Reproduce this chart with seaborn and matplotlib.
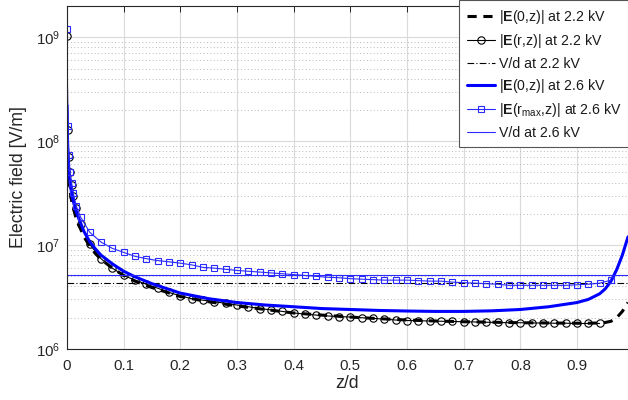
import matplotlib
matplotlib.use("Agg")
import matplotlib.pyplot as plt
import seaborn as sns
import pandas as pd
from matplotlib.ticker import LogLocator, NullFormatter, FixedLocator

# ---------------- data ----------------
z_E0 = [0, 0.001, 0.002, 0.004, 0.006, 0.008, 0.01, 0.015, 0.02, 0.03, 0.04, 0.05,
        0.06, 0.08, 0.10, 0.12, 0.15, 0.20, 0.25, 0.30, 0.35, 0.40, 0.45, 0.50,
        0.55, 0.60, 0.65, 0.70, 0.75, 0.80, 0.85, 0.90, 0.92, 0.94, 0.95, 0.96,
        0.97, 0.98, 0.99]
E0_22 = [1.3e8, 8.0e7, 6.0e7, 4.0e7, 3.2e7, 2.7e7, 2.4e7, 1.9e7, 1.6e7, 1.2e7, 9.8e6, 8.3e6,
         7.3e6, 6.0e6, 5.1e6, 4.5e6, 3.9e6, 3.2e6, 2.85e6, 2.6e6, 2.4e6, 2.22e6, 2.12e6, 2.03e6,
         1.96e6, 1.9e6, 1.86e6, 1.83e6, 1.81e6, 1.79e6, 1.78e6, 1.77e6, 1.77e6, 1.78e6, 1.8e6, 1.85e6,
         2.0e6, 2.3e6, 2.8e6]
E0_26 = [2.2e8, 1.0e8, 7.0e7, 4.8e7, 3.8e7, 3.2e7, 2.8e7, 2.2e7, 1.85e7, 1.35e7, 1.08e7, 9.2e6,
         8.0e6, 6.6e6, 5.6e6, 4.95e6, 4.25e6, 3.45e6, 3.05e6, 2.8e6, 2.65e6, 2.55e6, 2.45e6, 2.4e6,
         2.35e6, 2.32e6, 2.3e6, 2.3e6, 2.33e6, 2.4e6, 2.55e6, 2.8e6, 3.0e6, 3.4e6, 3.8e6, 4.5e6,
         5.8e6, 8.0e6, 1.2e7]

z_circ = [0, 0.0015, 0.003, 0.005, 0.008, 0.011, 0.016, 0.024,
          0.04, 0.06, 0.08, 0.10, 0.12, 0.14, 0.16, 0.18, 0.20, 0.22, 0.24, 0.26,
          0.28, 0.30, 0.32, 0.34, 0.36, 0.38, 0.40, 0.42, 0.44, 0.46, 0.48, 0.50,
          0.52, 0.54, 0.56, 0.58, 0.60, 0.62, 0.64, 0.66, 0.68, 0.70, 0.72, 0.74,
          0.76, 0.78, 0.80, 0.82, 0.84, 0.86, 0.88, 0.90, 0.92, 0.94]
Er_22 = [1.03e9, 1.28e8, 7.0e7, 5.0e7, 3.8e7, 3.0e7, 2.3e7, 1.6e7,
         1.02e7, 7.4e6, 6.0e6, 5.1e6, 4.6e6, 4.2e6, 3.85e6, 3.5e6, 3.25e6, 3.05e6, 2.95e6, 2.85e6,
         2.75e6, 2.65e6, 2.55e6, 2.45e6, 2.38e6, 2.3e6, 2.22e6, 2.17e6, 2.12e6, 2.08e6, 2.05e6, 2.03e6,
         2.0e6, 1.97e6, 1.94e6, 1.9e6, 1.88e6, 1.87e6, 1.86e6, 1.85e6, 1.84e6, 1.83e6, 1.82e6, 1.81e6,
         1.8e6, 1.79e6, 1.79e6, 1.78e6, 1.78e6, 1.77e6, 1.77e6, 1.76e6, 1.76e6, 1.76e6]

z_sq = [0, 0.0015, 0.003, 0.005, 0.008, 0.011, 0.016, 0.024,
        0.04, 0.06, 0.08, 0.10, 0.12, 0.14, 0.16, 0.18, 0.20, 0.22, 0.24, 0.26,
        0.28, 0.30, 0.32, 0.34, 0.36, 0.38, 0.40, 0.42, 0.44, 0.46, 0.48, 0.50,
        0.52, 0.54, 0.56, 0.58, 0.60, 0.62, 0.64, 0.66, 0.68, 0.70, 0.72, 0.74,
        0.76, 0.78, 0.80, 0.82, 0.84, 0.86, 0.88, 0.90, 0.92, 0.94, 0.96]
Ermax_26 = [1.19e9, 1.39e8, 7.3e7, 5.0e7, 4.0e7, 3.2e7, 2.4e7, 1.86e7,
            1.33e7, 1.07e7, 9.3e6, 8.5e6, 7.8e6, 7.4e6, 7.1e6, 6.9e6, 6.7e6, 6.45e6, 6.1e6, 6.0e6,
            5.85e6, 5.7e6, 5.6e6, 5.5e6, 5.4e6, 5.3e6, 5.2e6, 5.1e6, 5.0e6, 4.9e6, 4.85e6, 4.75e6,
            4.7e6, 4.65e6, 4.6e6, 4.6e6, 4.6e6, 4.55e6, 4.5e6, 4.5e6, 4.4e6, 4.35e6, 4.3e6, 4.25e6,
            4.2e6, 4.1e6, 4.1e6, 4.1e6, 4.1e6, 4.1e6, 4.1e6, 4.15e6, 4.2e6, 4.3e6, 4.6e6]

z_Vd = [0, 1]
Vd_22 = [4.35e6, 4.35e6]
Vd_26 = [5.15e6, 5.15e6]

labels = [r"|$\mathbf{E}$(0,z)| at 2.2 kV",
          r"|$\mathbf{E}$(r,z)| at 2.2 kV",
          "V/d at 2.2 kV",
          r"|$\mathbf{E}$(0,z)| at 2.6 kV",
          r"|$\mathbf{E}$(r$_{\mathrm{max}}$,z)| at 2.6 kV",
          "V/d at 2.6 kV"]
xticks = [0, 0.1, 0.2, 0.3, 0.4, 0.5, 0.6, 0.7, 0.8, 0.9]
xticklabels = ["0", "0.1", "0.2", "0.3", "0.4", "0.5", "0.6", "0.7", "0.8", "0.9"]

# ---------------- style ----------------
sns.set_style("white")
plt.rcParams["font.family"] = ["Liberation Sans", "DejaVu Sans"]
plt.rcParams["mathtext.fontset"] = "custom"
plt.rcParams["mathtext.rm"] = "Liberation Sans"
plt.rcParams["mathtext.bf"] = "Liberation Sans:bold"
plt.rcParams["mathtext.it"] = "Liberation Sans:italic"

fig = plt.figure(figsize=(6.28, 4.0), dpi=100)
ax = fig.add_axes([67 / 628, 51 / 400, 1 - 67 / 628, (349 - 6) / 400])
ax.set_yscale("log")

blue = "#0000ff"
lblue = "#2a2aff"
txt = "#262626"

df = lambda x, y: pd.DataFrame({"z": x, "E": y})
sns.lineplot(data=df(z_E0, E0_22), x="z", y="E", ax=ax, sort=False, estimator=None,
             color="black", lw=2.2, linestyle=(0, (3.0, 2.2)))
sns.lineplot(data=df(z_circ, Er_22), x="z", y="E", ax=ax, sort=False, estimator=None,
             color="black", lw=0.8, marker="o", markersize=5.3, markerfacecolor="none",
             markeredgecolor="black", markeredgewidth=0.8)
sns.lineplot(data=df(z_Vd, Vd_22), x="z", y="E", ax=ax, sort=False, estimator=None,
             color="black", lw=0.8, linestyle=(0, (6, 2, 1, 2)))
sns.lineplot(data=df(z_E0, E0_26), x="z", y="E", ax=ax, sort=False, estimator=None,
             color=blue, lw=2.2)
sns.lineplot(data=df(z_sq, Ermax_26), x="z", y="E", ax=ax, sort=False, estimator=None,
             color=lblue, lw=0.8, marker="s", markersize=4.8, markerfacecolor="none",
             markeredgecolor=lblue, markeredgewidth=0.8)
sns.lineplot(data=df(z_Vd, Vd_26), x="z", y="E", ax=ax, sort=False, estimator=None,
             color=lblue, lw=0.8)

lines = ax.get_lines()[:6]

ax.set_xlim(0, 0.99)
ax.set_ylim(1e6, 2.0e9)
ax.xaxis.set_major_locator(FixedLocator(xticks))
ax.set_xticklabels(xticklabels)
ax.yaxis.set_major_locator(LogLocator(base=10, numticks=10))
ax.yaxis.set_minor_locator(LogLocator(base=10, subs=[2, 3, 4, 5, 6, 7, 8, 9], numticks=20))
ax.yaxis.set_minor_formatter(NullFormatter())

ax.grid(True, which="major", color="#dadada", lw=0.8, ls="-")
ax.grid(True, which="minor", axis="y", color="#b8b8b8", lw=0.7, ls=(0, (1, 2.5)))
ax.set_axisbelow(True)

for s in ["left", "bottom", "top"]:
    ax.spines[s].set_color(txt)
    ax.spines[s].set_linewidth(0.8)
ax.spines["right"].set_visible(False)
ax.tick_params(axis="both", which="major", direction="in", length=4, width=0.7,
               labelsize=10.8, colors=txt, top=True)
ax.tick_params(axis="x", which="major", pad=7)
ax.tick_params(axis="y", which="major", pad=5)
ax.tick_params(axis="y", which="minor", direction="in", length=2, width=0.5, colors=txt)

ax.set_xlabel("z/d", fontsize=12.8, color=txt, labelpad=2)
ax.set_ylabel("Electric field [V/m]", fontsize=12.8, color=txt, labelpad=6)

leg = ax.legend(lines, labels, loc="upper left", bbox_to_anchor=(459 / 628, 1.0),
                bbox_transform=fig.transFigure, fontsize=10.2, frameon=True, fancybox=False,
                framealpha=1, edgecolor="#555555", handlelength=2.0, handletextpad=0.3,
                labelspacing=0.45, borderpad=0.55, borderaxespad=0, numpoints=1)
leg.get_frame().set_linewidth(0.8)
for t in leg.get_texts():
    t.set_color("#1a1a1a")

fig.savefig("out.png", dpi=100)
